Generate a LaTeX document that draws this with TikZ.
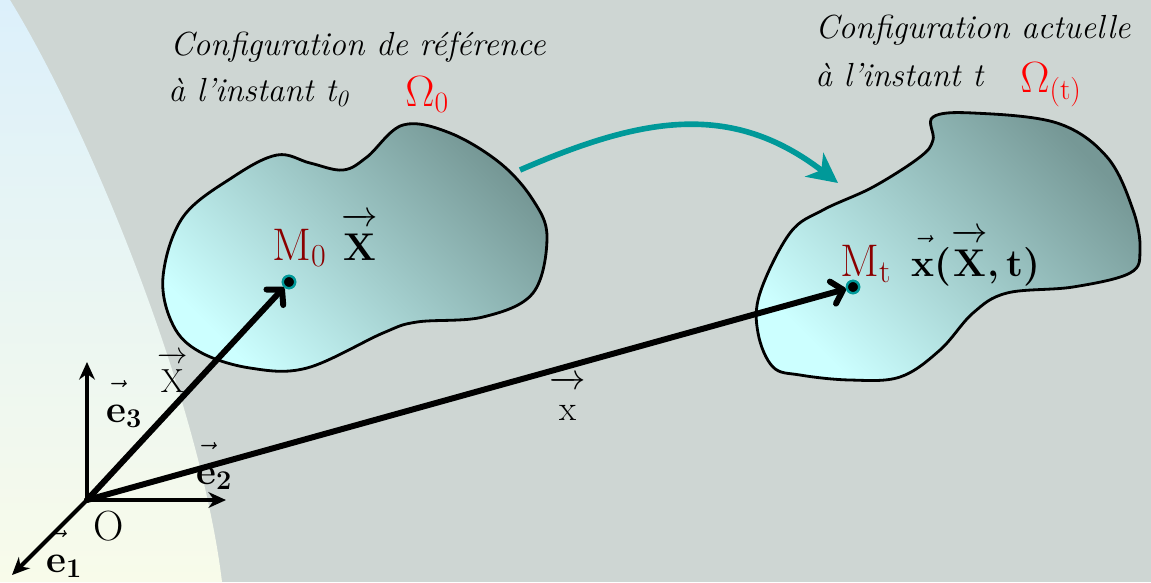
\documentclass[tikz,border=0pt]{standalone}
\usepackage{fontspec}
\usepackage{amsmath}
\usepackage{tikz}
\usetikzlibrary{arrows.meta, positioning}
\definecolor{bggray}{RGB}{206,214,211}
\definecolor{skyblue}{RGB}{220,240,251}
\definecolor{paleyellow}{RGB}{248,251,234}
\definecolor{bodylight}{RGB}{204,255,255}
\definecolor{bodydark}{RGB}{118,152,150}
\definecolor{motionteal}{RGB}{0,153,153}
\definecolor{pointred}{RGB}{139,0,0}
\newcommand{\arrowvec}[1]{\ensuremath{\vec{\text{#1}\rule{0pt}{0.78em}}}}
\newcommand{\longvec}[1]{\ensuremath{\overrightarrow{\text{#1}\rule{0pt}{0.86em}}}}

\begin{document}
\begin{tikzpicture}[
    x=0.02cm, y=-0.02cm,
    every node/.style={inner sep=0pt, anchor=base west},
    config/.style={font=\fontsize{19}{23}\selectfont\itshape},
    omegalabel/.style={font=\fontsize{24}{28}\selectfont, color=red},
    pointname/.style={font=\fontsize{26}{30}\selectfont, color=pointred},
    veclabel/.style={font=\fontsize{22}{26}\selectfont},
    body/.style={draw=black, line width=1.6pt, top color=bodydark, bottom color=bodylight, shading angle=-45},
    point/.style={circle, fill=black, draw=motionteal, line width=1.3pt, minimum size=7pt, anchor=center},
    basis/.style={-{Stealth[length=10pt, width=9pt]}, line width=2.4pt},
    posvec/.style={-{Straight Barb[round, length=6pt, width=13pt]}, line width=3.4pt, line cap=round},
    motion/.style={-{Stealth[length=17pt, width=17pt, inset=5pt]}, line width=3.2pt, color=motionteal}
]
\useasboundingbox (0,0) rectangle (1151,582);

% background
\fill[bggray] (0,0) rectangle (1151,582);
\shade[top color=skyblue, bottom color=paleyellow] (0,0) -- (10,0) .. controls (90,130) and (200,400) .. (222,582) -- (0,582) -- cycle;

% the two configurations
\draw[body] plot[smooth cycle, tension=0.6] coordinates {(547,237) (533,293) (483,317) (417,322) (383,333) (307,368) (250,368) (200,352) (173,325) (163,277) (183,217) (233,177) (277,155) (310,163) (343,170) (367,157) (403,125) (450,133) (500,163) (533,200)};
\draw[body] plot[smooth cycle, tension=0.6] coordinates {(933,117) (973,113) (1057,123) (1107,157) (1133,210) (1140,250) (1130,273) (1073,287) (1007,293) (973,313) (940,350) (900,377) (850,380) (800,375) (773,367) (758,333) (760,293) (790,233) (823,210) (873,187) (920,157) (933,140)};

\coordinate (motionstart) at (520,170);
\coordinate (motionend) at (838,183);
\draw[motion] (motionstart) .. controls (640,118) and (730,100) .. (motionend);

\coordinate (origin) at (87,500);
\coordinate (e3tip) at (87,362);
\coordinate (e2tip) at (226,500);
\coordinate (e1tip) at (12,575);
\node[point] (dot0) at (289,282) {};
\node[point] (dott) at (853,287) {};

\draw[posvec] (origin) -- (dot0);
\draw[posvec] (origin) -- (dott);
\draw[basis] (origin) -- (e3tip);
\draw[basis] (origin) -- (e2tip);
\draw[basis] (origin) -- (e1tip);
\node[point] at (dot0) {};
\node[point] at (dott) {};

% titles
\node[config] (reftitle) at (170,55) {Configuration de référence};
\node[config] (reftime) at (168,101) {à l’instant t\textsubscript{0}};
\node[omegalabel] (omega0) at (405,106) {$\Omega$\textsubscript{0}};
\node[config] (curtitle) at (815,38) {Configuration actuelle};
\node[config] (curtime) at (815,86) {à l’instant t};
\node[omegalabel] (omegat) at (1020,92) {$\Omega$\textsubscript{(t)}};

% points
\node[pointname] (m0label) at (272,260) {M\textsubscript{0}};
\node[veclabel, base right=8pt of m0label] (bigx) {\longvec{\bfseries X}};
\node[pointname] (mtlabel) at (840,276) {M\textsubscript{t}};
\node[veclabel, base right=11pt of mtlabel] (placement) {\arrowvec{\bfseries x}\textbf{(}\longvec{\bfseries X}\textbf{,\,t)}};

% basis and vectors
\node[veclabel] (e3label) at (106,422) {$\vec{\text{\bfseries e}\rule{0pt}{0.8em}}_{\text{\bfseries 3}}$};
\node[veclabel] (e2label) at (196,484) {$\vec{\text{\bfseries e}\rule{0pt}{0.8em}}_{\text{\bfseries 2}}$};
\node[veclabel] (e1label) at (46,572) {$\vec{\text{\bfseries e}\rule{0pt}{0.8em}}_{\text{\bfseries 1}}$};
\node[font=\fontsize{24}{28}\selectfont] (olabel) at (93,540) {O};
\node[font=\fontsize{19}{23}\selectfont] (xlabel) at (157,392) {\longvec{X}};
\node[font=\fontsize{20}{24}\selectfont] (smallx) at (549,420) {\longvec{x}};

\end{tikzpicture}
\end{document}
